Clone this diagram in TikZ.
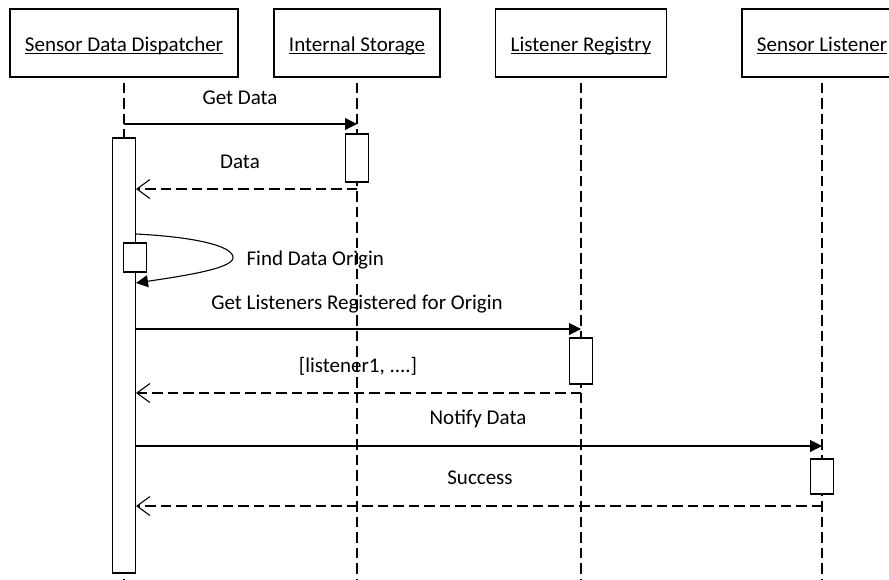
\documentclass[tikz,border=0pt]{standalone}
\usepackage{fontspec}
\setmainfont{Carlito}
\usetikzlibrary{arrows.meta}
% underline at a fixed distance below the baseline
\newcommand\titleul[1]{\setbox0\hbox{#1}\rlap{\rule[-2.5pt]{\wd0}{1pt}}\box0}
\begin{document}
\begin{tikzpicture}[x=1pt,y=-1pt,line width=1.1pt,
  font=\fontsize{21}{25}\selectfont,
  actor/.style={draw, fill=white, minimum height=68pt, inner sep=0pt,
                text height=20pt, text depth=4pt},
  lifeline/.style={dash pattern=on 10.5pt off 5pt, dash phase=10.5pt},
  act/.style={draw, fill=white, minimum width=23pt, inner sep=0pt},
  call/.style={-{Triangle[length=12pt,width=12pt]}},
  reply/.style={dash pattern=on 10.5pt off 5pt,-{Straight Barb[length=13pt,width=19pt]}},
  lbl/.style={anchor=base, inner sep=0pt}]
\path[use as bounding box, clip] (0,0) rectangle (889,579);

% participants
\node[actor, minimum width=228pt] (d)  at (124,43) {\titleul{Sensor Data Dispatcher}};
\node[actor, minimum width=166pt] (st) at (357,43) {\titleul{Internal Storage}};
\node[actor, minimum width=171pt] (lr) at (581,43) {\titleul{Listener Registry}};
\node[actor, minimum width=160pt] (sl) at (822,43) {\titleul{Sensor Listener}};

% lifelines
\coordinate (dEnd)  at (124,579);
\coordinate (stEnd) at (357,579);
\coordinate (lrEnd) at (581,579);
\coordinate (slEnd) at (822,579);
\draw[lifeline] (d.south)  -- (dEnd);
\draw[lifeline] (st.south) -- (stEnd);
\draw[lifeline] (lr.south) -- (lrEnd);
\draw[lifeline] (sl.south) -- (slEnd);

% activation bars
\node[act, minimum height=435pt] (ad)  at (124,355.5) {};
\node[act, minimum height=48pt]  (ast) at (357,158)   {};
\node[act, minimum height=46pt]  (alr) at (581,361)   {};
\node[act, minimum height=35pt]  (asl) at (822,476.5) {};
\node[act, minimum height=29pt]  (aself) at (135,257.5) {};

% message end points
\coordinate (getS)  at (124,124);   \coordinate (getE)  at (357,124);
\coordinate (datS)  at (357,189);   \coordinate (datE)  at (136,189);
\coordinate (selfS) at (136,234);   \coordinate (selfT) at (233,258);
\coordinate (selfE) at (136,283);
\coordinate (lstS)  at (136,329);   \coordinate (lstE)  at (581,329);
\coordinate (retS)  at (581,393);   \coordinate (retE)  at (136,393);
\coordinate (ntfS)  at (136,446);   \coordinate (ntfE)  at (822,446);
\coordinate (sucS)  at (822,506);   \coordinate (sucE)  at (136,506);

% messages
\draw[call]  (getS) -- (getE);
\draw[reply] (datS) -- (datE);
\draw[call]  (selfS) .. controls (195,237) and (234,246) .. (selfT)
                     .. controls (232,268) and (190,275) .. (selfE);
\draw[call]  (lstS) -- (lstE);
\draw[reply] (retS) -- (retE);
\draw[call]  (ntfS) -- (ntfE);
\draw[reply] (sucS) -- (sucE);

% message labels
\node[lbl] (tGet)  at (240,104) {Get Data};
\node[lbl] (tDat)  at (240,168) {Data};
\node[lbl, anchor=base west] (tSelf) at (246,265) {Find Data Origin};
\node[lbl] (tLst)  at (357,309) {Get Listeners Registered for Origin};
\node[lbl] (tRet)  at (358,372) {[listener1, ....]};
\node[lbl] (tNtf)  at (478,424) {Notify Data};
\node[lbl] (tSuc)  at (480,484) {Success};
\end{tikzpicture}
\end{document}
